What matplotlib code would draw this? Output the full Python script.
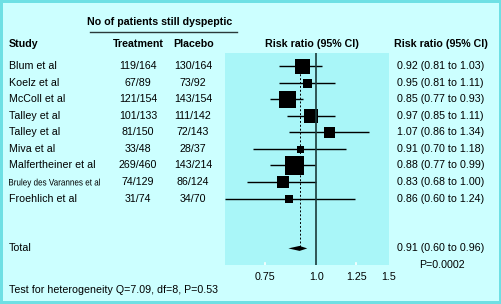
import numpy as np
import matplotlib.pyplot as plt
from matplotlib.transforms import blended_transform_factory, Affine2D
from matplotlib.textpath import TextPath
from matplotlib.patches import PathPatch
from matplotlib.font_manager import FontProperties

plt.rcParams['font.family'] = ['Liberation Sans', 'DejaVu Sans']

studies = ['Blum et al', 'Koelz et al', 'McColl et al', 'Talley et al', 'Talley et al',
           'Miva et al', 'Malfertheiner et al', 'Bruley des Varannes et al', 'Froehlich et al']
treatment = ['119/164', '67/89', '121/154', '101/133', '81/150',
             '33/48', '269/460', '74/129', '31/74']
placebo = ['130/164', '73/92', '143/154', '111/142', '72/143',
           '28/37', '143/214', '86/124', '34/70']
rr = [0.92, 0.95, 0.85, 0.97, 1.07, 0.91, 0.88, 0.83, 0.86]
lo = [0.81, 0.81, 0.77, 0.85, 0.86, 0.70, 0.77, 0.68, 0.60]
hi = [1.03, 1.11, 0.93, 1.11, 1.34, 1.18, 0.99, 1.00, 1.24]
box = [15, 9, 17, 14.5, 11, 7, 19, 12, 7.5]   # relative weight, box width in px
total_rr = 0.91
total_txt = '0.91 (0.60 to 0.96)'
total_diamond = (0.855, 0.95)
p_text = 'P=0.0002'
het_text = 'Test for heterogeneity Q=7.09, df=8, P=0.53'
xticks = [0.75, 1.0, 1.25, 1.5]
xtick_labels = ['0.75', '1.0', '1.25', '1.5']

W, H = 502, 304
bg = '#ccffff'
panel = '#a9f6f8'

fig = plt.figure(figsize=(W / 100, H / 100), dpi=100, facecolor=bg,
                 edgecolor='#6ee0e4', linewidth=3)

# overlay in pixel coordinates for the table text
ov = fig.add_axes([0, 0, 1, 1], zorder=0)
ov.set_xlim(0, W)
ov.set_ylim(H, 0)
ov.axis('off')

# forest plot panel
x0, x1, y0, y1 = 225, 389, 53, 265
ax = fig.add_axes([x0 / W, 1 - y1 / H, (x1 - x0) / W, (y1 - y0) / H], zorder=1)
ax.set_facecolor(panel)
for s in ax.spines.values():
    s.set_visible(False)
ax.set_xscale('log')
ax.set_xlim(0.6, 1.5)
n = len(studies)
total_row = n + 2
ax.set_ylim(total_row + 1, -0.78)
ax.set_xticks([])
ax.set_yticks([])
ax.minorticks_off()

rows = np.arange(n)
for i in rows:
    ax.plot([lo[i], hi[i]], [i, i], color='black', lw=1.0, solid_capstyle='butt')
    ax.plot(rr[i], i, marker='s', ms=box[i] * 0.72, color='black', mew=0)

ax.axvline(1.0, color='#1a3a3a', lw=1.2)
ax.plot([total_rr, total_rr], [0, total_row], color='black', lw=0.7, ls=(0, (2, 2)))
dx = [total_diamond[0], total_rr, total_diamond[1], total_rr, total_diamond[0]]
dy = [total_row, total_row - 0.15, total_row, total_row + 0.15, total_row]
ax.fill(dx, dy, color='black', lw=0)

# tick marks (white, inside)
for t in xticks:
    if t != 1.0 and t < 1.5:
        ax.plot([t, t], [total_row + 1, total_row + 0.85], color='white', lw=1.2)

tr = blended_transform_factory(ov.transData, ax.transData)
fs = 7.7

ov.text(160, 22, 'No of patients still dyspeptic', fontsize=fs, fontweight='bold',
        ha='center', va='center')
ov.plot([90, 237], [32, 32], color='#2a3a3a', lw=1.0)
ov.text(9, 44, 'Study', fontsize=fs, fontweight='bold', ha='left', va='center')
ov.text(138, 44, 'Treatment', fontsize=fs, fontweight='bold', ha='center', va='center')
ov.text(194, 44, 'Placebo', fontsize=fs, fontweight='bold', ha='center', va='center')
ov.text(312, 44, 'Risk ratio (95% CI)', fontsize=fs, fontweight='bold', ha='center', va='center')
ov.text(394, 44, 'Risk ratio (95% CI)', fontsize=fs, fontweight='bold', ha='left', va='center')


def narrow_text(x, y, s, width, size_px):
    # condensed label drawn as a path squeezed to the given width
    tp = TextPath((0, 0), s, size=size_px, prop=FontProperties(family='Liberation Sans'))
    bb = tp.get_extents()
    sx = width / bb.width
    t = Affine2D().translate(-bb.x0, -size_px * 0.36).scale(sx, -1).translate(x, y)
    ov.add_patch(PathPatch(t.transform_path(tp), color='black', lw=0))


for i in rows:
    ypix = ov.transData.inverted().transform(ax.transData.transform((1.0, i)))[1]
    if studies[i].startswith('Bruley'):
        narrow_text(9, ypix, studies[i], 91, fs * 100 / 72 * 0.88)
    else:
        ax.text(9, i, studies[i], transform=tr, fontsize=fs, ha='left', va='center', clip_on=False)
    ax.text(138, i, treatment[i], transform=tr, fontsize=fs, ha='center', va='center', clip_on=False)
    ax.text(193, i, placebo[i], transform=tr, fontsize=fs, ha='center', va='center', clip_on=False)
    ax.text(397, i, '%.2f (%.2f to %.2f)' % (rr[i], lo[i], hi[i]), transform=tr,
            fontsize=fs, ha='left', va='center', clip_on=False)

ax.text(9, total_row, 'Total', transform=tr, fontsize=fs, ha='left', va='center', clip_on=False)
ax.text(397, total_row, total_txt, transform=tr, fontsize=fs, ha='left', va='center', clip_on=False)
ov.text(442, 265, p_text, fontsize=fs, ha='center', va='center')
ov.text(9, 290, het_text, fontsize=fs, ha='left', va='center')

trx = blended_transform_factory(ax.transData, ov.transData)
for t, lab in zip(xticks, xtick_labels):
    ax.text(t, 277, lab, transform=trx, fontsize=fs, ha='center', va='center', clip_on=False)

fig.savefig('out.png', dpi=100, facecolor=bg, edgecolor=fig.get_edgecolor())
